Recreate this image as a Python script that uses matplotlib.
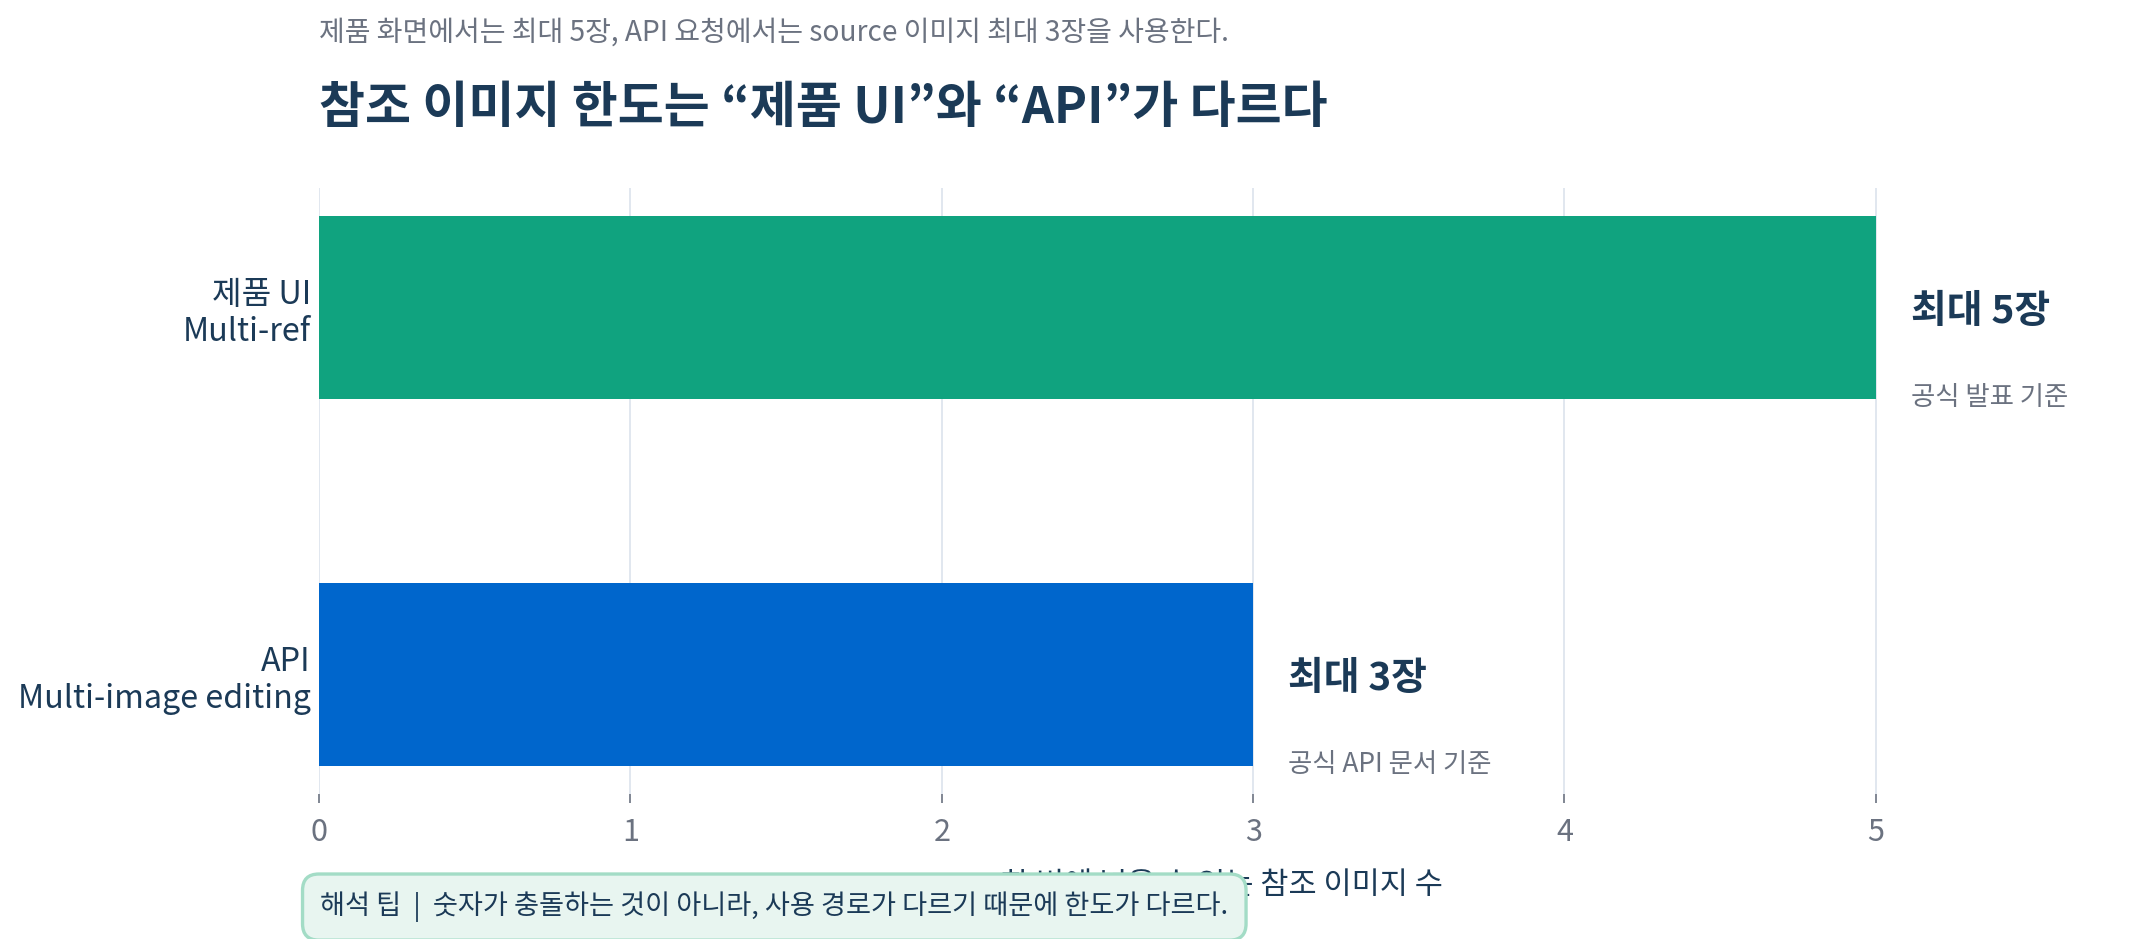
import matplotlib
matplotlib.use("Agg")
import matplotlib.pyplot as plt

plt.rcParams['font.family'] = ['Noto Sans CJK KR', 'DejaVu Sans']

# data
categories = ["제품 UI\nMulti-ref", "API\nMulti-image editing"]
limits = [5, 3]
bar_colors = ["#10a37f", "#0066cc"]
main_labels = ["최대 5장", "최대 3장"]
sub_labels = ["공식 발표 기준", "공식 API 문서 기준"]
x_ticks = [0, 1, 2, 3, 4, 5]

navy = "#1b3a57"
gray = "#6b7280"

fig = plt.figure(figsize=(10.71, 4.695), dpi=200)
ax = fig.add_axes([0.149, 0.154, 0.843, 0.646])

y = list(range(len(categories)))
ax.barh(y, limits, height=0.5, color=bar_colors, zorder=2)

for yi, v, m, s in zip(y, limits, main_labels, sub_labels):
    ax.text(v + 0.112, yi + 0.01, m, fontsize=14, fontweight="bold", color=navy,
            va="center", ha="left")
    ax.text(v + 0.112, yi + 0.245, s, fontsize=9.5, color=gray,
            va="center", ha="left")

ax.set_xlim(0, 5.8)
ax.set_ylim(1.326, -0.326)
ax.set_xticks(x_ticks)
ax.set_yticks(y)
ax.set_yticklabels(categories, fontsize=11.6, color=navy)
ax.tick_params(axis="y", length=0, pad=3)
ax.tick_params(axis="x", length=3.2, width=0.6, color=gray, labelcolor=gray,
               labelsize=11, pad=5)
ax.grid(axis="x", color="#dbe3ec", linewidth=0.6, zorder=0)
ax.set_axisbelow(True)
for sp in ax.spines.values():
    sp.set_visible(False)

ax.set_xlabel("한 번에 넣을 수 있는 참조 이미지 수", fontsize=11, color=navy,
              labelpad=8)

fig.text(0.149, 0.965, "제품 화면에서는 최대 5장, API 요청에서는 source 이미지 최대 3장을 사용한다.",
         fontsize=10.1, color=gray, va="center", ha="left")
fig.text(0.149, 0.884, "참조 이미지 한도는 “제품 UI”와 “API”가 다르다",
         fontsize=18, fontweight="bold", color=navy, va="center", ha="left")

fig.text(0.1495, 0.034, "해석 팁  |  숫자가 충돌하는 것이 아니라, 사용 경로가 다르기 때문에 한도가 다르다.",
         fontsize=9.8, color=navy, va="center", ha="left", zorder=5,
         bbox=dict(boxstyle="round,pad=0.65,rounding_size=0.6",
                   facecolor="#e8f5f0", edgecolor="#a3dcc6", linewidth=1.2))

fig.savefig("out.png", dpi=200)
